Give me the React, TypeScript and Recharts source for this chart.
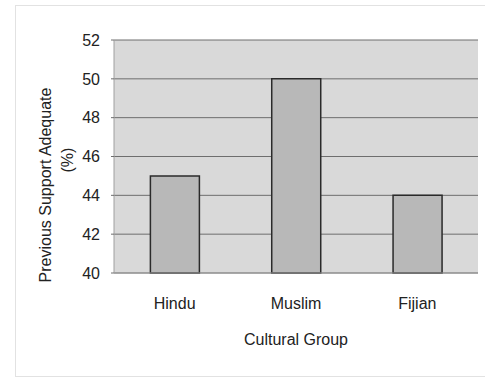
import React from 'react';
import { BarChart, Bar, XAxis, YAxis, CartesianGrid } from 'recharts';

const groups = ['Hindu', 'Muslim', 'Fijian'];
const adequate = [45, 50, 44];
const yTicks = [40, 42, 44, 46, 48, 50, 52];

const data = groups.map((g, i) => ({ name: g, value: adequate[i] }));

const font = 'Arial, "Liberation Sans", sans-serif';

// two-line rotated y title, drawn next to the axis
const YTitle = () => {
  const cy1 = 185;
  const cy2 = 160;
  return (
    <g fontFamily={font} fontSize={16} fill="#222">
      <text x={45} y={cy1} textAnchor="middle" dominantBaseline="central" transform={`rotate(-90, 45, ${cy1})`}>
        Previous Support Adequate
      </text>
      <text x={67} y={cy2} textAnchor="middle" dominantBaseline="central" transform={`rotate(-90, 67, ${cy2})`}>
        (%)
      </text>
    </g>
  );
};

const XTitle = (props: any) => {
  const vb = props.viewBox || {};
  return (
    <text x={vb.x + vb.width / 2} y={345} textAnchor="middle" fontFamily={font} fontSize={16} fill="#222">
      Cultural Group
    </text>
  );
};

const App: React.FC = () => {
  return (
    <div style={{ position: 'absolute', left: 0, top: 0, width: 485, height: 380, background: '#fff' }}>
      <div
        style={{
          position: 'absolute',
          left: 15,
          top: 5,
          width: 475,
          height: 372,
          border: '1px solid #e2e2e2',
          boxSizing: 'border-box',
        }}
      />
      <BarChart
        width={485}
        height={380}
        data={data}
        margin={{ top: 40, right: 7, left: 0, bottom: 47 }}
        barCategoryGap="30%"
        style={{ position: 'absolute', left: 0, top: 0, fontFamily: font }}
      >
        <CartesianGrid vertical={false} stroke="#6e6e6e" fill="#d9d9d9" fillOpacity={1} />
        <XAxis
          dataKey="name"
          height={60}
          axisLine={{ stroke: '#9a9a9a' }}
          tickLine={false}
          tickSize={0}
          tickMargin={25}
          tick={{ fill: '#222', fontSize: 16, fontFamily: font }}
          label={<XTitle />}
        />
        <YAxis
          width={114}
          domain={[40, 52]}
          ticks={yTicks}
          interval={0}
          axisLine={{ stroke: '#a0a0a0' }}
          tickLine={{ stroke: '#6e6e6e' }}
          tickSize={3}
          tickMargin={11}
          tick={{ fill: '#222', fontSize: 16, fontFamily: font }}
          label={<YTitle />}
        />
        <Bar dataKey="value" fill="#b8b8b8" stroke="#2a2a2a" strokeWidth={1.5} isAnimationActive={false} />
      </BarChart>
    </div>
  );
};

export default App;
